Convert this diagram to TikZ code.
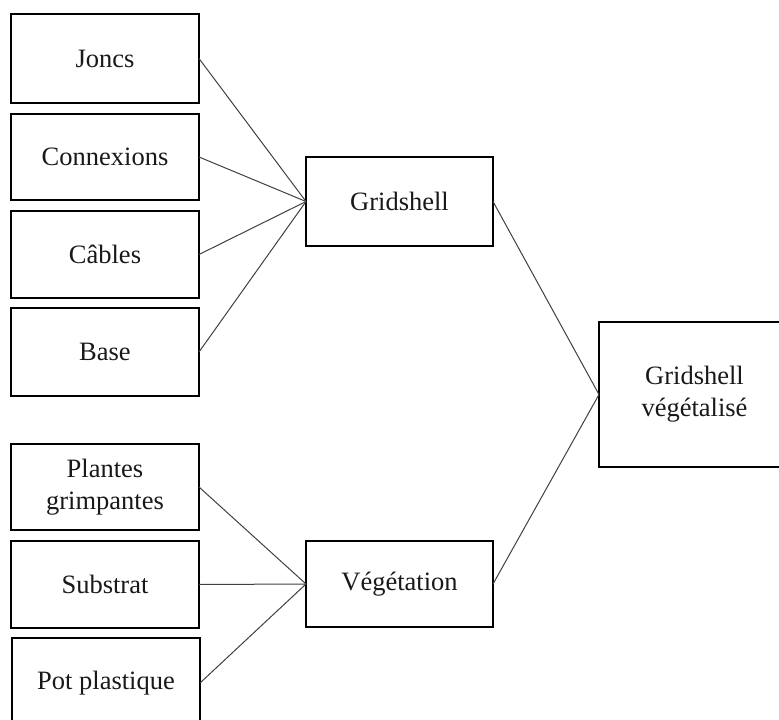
\documentclass[tikz,border=0pt]{standalone}
\usepackage{fontspec}
\setmainfont{Liberation Serif}
\begin{document}
\begin{tikzpicture}[x=1pt,y=-1pt,
  box/.style={draw=black, line width=2pt, rectangle, inner sep=0pt, outer sep=0pt,
    align=center, font=\fontsize{26.5}{32}\selectfont, text=black!90},
  lbox/.style={box, minimum width=188pt},
  cbox/.style={box, minimum width=187pt},
  link/.style={draw=black!75, line width=1pt}]
\useasboundingbox (0,0) rectangle (779,720);
\node[lbox, minimum height=89pt] (joncs) at (105,58.5) {Joncs};
\node[lbox, minimum height=86pt] (conn) at (105,157) {Connexions};
\node[lbox, minimum height=87pt] (cables) at (105,254.5) {Câbles};
\node[lbox, minimum height=88pt] (base) at (105,352) {Base};
\node[lbox, minimum height=86pt] (plantes) at (105,487) {Plantes\\grimpantes};
\node[lbox, minimum height=87pt] (substrat) at (105,584.5) {Substrat};
\node[lbox, minimum height=90pt] (pot) at (106,683) {Pot plastique};
\node[cbox, minimum height=89pt] (grid) at (399.5,201.5) {Gridshell};
\node[cbox, minimum height=86pt] (veg) at (399.5,584) {Végétation};
\node[box, minimum width=191pt, minimum height=145pt] (gv) at (694.5,394.5) {Gridshell\\végétalisé};
\foreach \n in {joncs,conn,cables,base} \draw[link] (\n.east) -- (grid.west);
\foreach \n in {plantes,substrat,pot} \draw[link] (\n.east) -- (veg.west);
\draw[link] (grid.east) -- (gv.west);
\draw[link] (veg.east) -- (gv.west);
\end{tikzpicture}
\end{document}
